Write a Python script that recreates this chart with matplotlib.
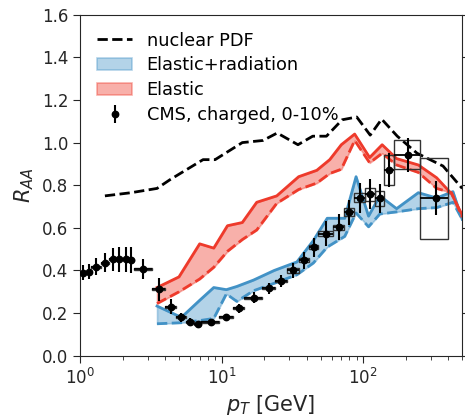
"""
Nuclear modification factor R_AA of charged hadrons vs pT:
model bands (elastic, elastic+radiation), nPDF baseline and CMS 0-10% data.
"""

import numpy as np
import matplotlib
matplotlib.use("Agg")
import matplotlib.pyplot as plt
from matplotlib.patches import Rectangle

# nuclear PDF baseline
npdf_pt = [1.5, 2.3, 3.5, 4.3, 5.1, 7.4, 9.0, 14.0, 19.6, 24.7, 34.6, 44, 55, 71, 90,
           112, 135, 174, 240, 366, 500]
npdf_raa = [0.75, 0.765, 0.785, 0.825, 0.855, 0.92, 0.92, 1.0, 1.01, 1.045, 0.99, 1.03,
            1.03, 1.107, 1.12, 1.035, 1.11, 1.03, 0.95, 0.89, 0.785]

# elastic band (upper solid / lower dashed)
el_pt = [3.5, 5.0, 7.0, 8.8, 11, 14, 17.7, 24.5, 35, 47, 58, 70, 87, 111, 136, 172,
         245, 330, 420, 500]
el_hi = [0.32, 0.37, 0.525, 0.505, 0.61, 0.625, 0.72, 0.75, 0.84, 0.87, 0.92, 0.99,
         1.04, 0.93, 0.99, 0.925, 0.895, 0.835, 0.76, 0.66]
el_lo = [0.245, 0.30, 0.36, 0.415, 0.49, 0.545, 0.59, 0.715, 0.78, 0.81, 0.855, 0.875,
         1.01, 0.905, 0.95, 0.895, 0.86, 0.785, 0.765, 0.65]

# elastic + radiation band
rad_pt = [3.5, 5.2, 7.0, 8.8, 10.8, 12.8, 16.8, 23.5, 34, 44.4, 55.7, 74, 89, 109, 131,
          172, 245, 330, 430, 500]
rad_hi = [0.233, 0.18, 0.26, 0.32, 0.31, 0.325, 0.355, 0.40, 0.44, 0.54, 0.645, 0.645,
          0.84, 0.655, 0.75, 0.69, 0.765, 0.74, 0.77, 0.64]
rad_lo = [0.15, 0.155, 0.165, 0.175, 0.29, 0.255, 0.305, 0.34, 0.38, 0.435, 0.51, 0.56,
          0.67, 0.605, 0.665, 0.675, 0.69, 0.695, 0.72, 0.64]

# CMS charged hadrons, 0-10%
cms_edges = [1.0, 1.1, 1.2, 1.4, 1.6, 1.8, 2.0, 2.2, 2.4, 3.2, 4.0, 4.8, 5.6, 6.4, 7.2,
             9.6, 12.0, 14.4, 19.2, 24.0, 28.8, 35.2, 41.6, 48.0, 60.8, 73.6, 86.4,
             103.6, 120.8, 140.0, 165.0, 250.0, 400.0]
cms_raa = [0.39, 0.394, 0.418, 0.437, 0.452, 0.452, 0.452, 0.449, 0.407, 0.312, 0.23,
           0.18, 0.16, 0.149, 0.157, 0.183, 0.222, 0.272, 0.316, 0.351, 0.40, 0.449,
           0.509, 0.573, 0.603, 0.673, 0.742, 0.758, 0.738, 0.87, 0.942, 0.74]
cms_stat = [0.035, 0.035, 0.04, 0.045, 0.055, 0.06, 0.06, 0.06, 0.047, 0.055, 0.035,
            0.02, 0.015, 0.015, 0.015, 0.015, 0.02, 0.025, 0.025, 0.03, 0.035, 0.04,
            0.045, 0.06, 0.06, 0.06, 0.07, 0.07, 0.07, 0.08, 0.08, 0.08]
cms_sys = [0.005] * 20 + [0.01, 0.01, 0.01, 0.01, 0.011, 0.018, 0.02, 0.03, 0.035,
                          0.07, 0.068, 0.19]

RED = "#ee3a2b"
BLUE = "#4292c6"


def main():
    fig = plt.figure(figsize=(4.65, 4.2), dpi=100)
    ax = fig.add_axes([0.172, 0.153, 0.822, 0.812])

    ax.plot(npdf_pt, npdf_raa, "k--", lw=2, label="nuclear PDF")

    ax.fill_between(rad_pt, rad_lo, rad_hi, color=BLUE, alpha=0.4, lw=1.2,
                    label="Elastic+radiation")
    ax.plot(rad_pt, rad_hi, "-", color=BLUE, lw=2)
    ax.plot(rad_pt, rad_lo, "--", color=BLUE, lw=2)

    ax.fill_between(el_pt, el_lo, el_hi, color=RED, alpha=0.4, lw=1.2, label="Elastic")
    ax.plot(el_pt, el_hi, "-", color=RED, lw=2)
    ax.plot(el_pt, el_lo, "--", color=RED, lw=2)

    edges = np.array(cms_edges)
    lo, hi = edges[:-1], edges[1:]
    pt = 0.5 * (lo + hi)
    raa = np.array(cms_raa)
    for l, h, y, s in zip(lo, hi, raa, cms_sys):
        ax.add_patch(Rectangle((l, y - s), h - l, 2 * s, fill=False,
                               edgecolor="#333333", lw=1.0, zorder=4))
    ax.errorbar(pt, raa, xerr=[pt - lo, hi - pt], fmt="none", ecolor="k", elinewidth=1.3,
                zorder=5)
    ax.errorbar(pt, raa, yerr=cms_stat, fmt="o", color="k", ms=4.6, elinewidth=1.5,
                zorder=6, label="CMS, charged, 0-10%")

    ax.set_xscale("log")
    ax.set_xlim(1, 500)
    ax.set_ylim(0, 1.6)
    ax.set_yticks(np.arange(0, 1.61, 0.2))
    ax.tick_params(axis="both", which="both", direction="out", labelsize=12,
                   colors="#262626", right=True)
    ax.tick_params(which="major", length=5)
    ax.tick_params(which="minor", length=3)
    ax.set_xlabel(r"$p_T$ [GeV]", fontsize=15, color="#262626")
    ax.set_ylabel(r"$R_{AA}$", fontsize=15, color="#262626")
    for sp in ax.spines.values():
        sp.set_color("#262626")

    ax.legend(loc="upper left", frameon=False, fontsize=12.8, handlelength=2.0,
              handletextpad=0.8, borderaxespad=0.55, labelspacing=0.38)

    fig.savefig("out.png", dpi=100)
    print("saved out.png")


if __name__ == "__main__":
    main()
